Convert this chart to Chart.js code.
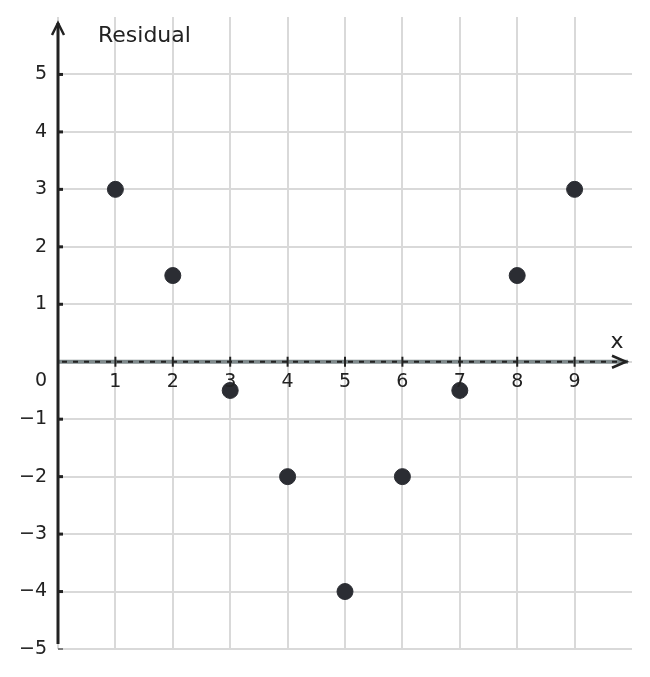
<!DOCTYPE html>
<html>
<head>
<meta charset="utf-8">
<script src="https://cdn.jsdelivr.net/npm/chart.js@4.4.0/dist/chart.umd.min.js"></script>
<style>
  html, body { margin: 0; padding: 0; background: #fff; }
  #wrap { width: 650px; height: 677px; position: relative; }
</style>
</head>
<body>
<div id="wrap"><canvas id="chart"></canvas></div>
<script>
// datos del gráfico de residuos
const xValues = [1, 2, 3, 4, 5, 6, 7, 8, 9];
const residuals = [3, 1.5, -0.5, -2, -4, -2, -0.5, 1.5, 3];
const xTicks = [1, 2, 3, 4, 5, 6, 7, 8, 9];
const yTicks = [-5, -4, -3, -2, -1, 0, 1, 2, 3, 4, 5];

const ink = '#222222';
const font = '19px "DejaVu Sans", sans-serif';

// dibuja ejes con flechas, marcas y etiquetas
const axesPlugin = {
    id: 'axes',
    afterDatasetsDraw(chart) {
        const ctx = chart.ctx;
        const xs = chart.scales.x, ys = chart.scales.y;
        const x0 = xs.getPixelForValue(0);
        const y0 = ys.getPixelForValue(0);
        const right = chart.chartArea.right;
        const top = chart.chartArea.top;
        ctx.save();

        // eje x: línea gris y guiones negros
        ctx.strokeStyle = '#7f8a8c';
        ctx.lineWidth = 4;
        ctx.beginPath();
        ctx.moveTo(x0, y0);
        ctx.lineTo(right - 4, y0);
        ctx.stroke();
        ctx.strokeStyle = ink;
        ctx.lineWidth = 2;
        ctx.setLineDash([5, 6]);
        ctx.beginPath();
        ctx.moveTo(x0 + 4, y0);
        ctx.lineTo(right - 6, y0);
        ctx.stroke();
        ctx.setLineDash([]);
        // flecha x
        ctx.lineWidth = 2.5;
        ctx.beginPath();
        ctx.moveTo(right - 20, y0 - 6);
        ctx.lineTo(right - 6, y0);
        ctx.lineTo(right - 20, y0 + 6);
        ctx.stroke();

        // eje y
        ctx.lineWidth = 3;
        ctx.beginPath();
        ctx.moveTo(x0, ys.getPixelForValue(-5) - 5);
        ctx.lineTo(x0, top + 6);
        ctx.stroke();
        ctx.lineWidth = 2.5;
        ctx.beginPath();
        ctx.moveTo(x0 - 6, top + 18);
        ctx.lineTo(x0, top + 6);
        ctx.lineTo(x0 + 6, top + 18);
        ctx.stroke();

        ctx.fillStyle = ink;
        ctx.font = font;

        // marcas y etiquetas x
        ctx.lineWidth = 2;
        ctx.textAlign = 'center';
        ctx.textBaseline = 'middle';
        xTicks.forEach(v => {
            const px = xs.getPixelForValue(v);
            ctx.beginPath();
            ctx.moveTo(px, y0 - 5);
            ctx.lineTo(px, y0 + 5);
            ctx.stroke();
            ctx.fillText(String(v), px, y0 + 20);
        });

        // marcas y etiquetas y
        ctx.textAlign = 'right';
        yTicks.forEach(v => {
            const py = ys.getPixelForValue(v);
            if (v !== 0) {
                ctx.lineWidth = v === -5 ? 1 : 3;
                ctx.beginPath();
                ctx.moveTo(x0, py);
                ctx.lineTo(x0 + 5, py);
                ctx.stroke();
            }
            const label = v < 0 ? '\u2212' + Math.abs(v) : String(v);
            ctx.fillText(label, x0 - 11, v === 0 ? py + 19 : py);
        });

        // títulos
        ctx.font = '22px "DejaVu Sans", sans-serif';
        ctx.textAlign = 'left';
        ctx.fillText('Residual', x0 + 40, top + 19);
        ctx.textAlign = 'center';
        ctx.fillText('x', right - 15, y0 - 19);
        ctx.restore();
    }
};

new Chart(document.getElementById('chart'), {
    type: 'scatter',
    data: {
        datasets: [{
            data: xValues.map((x, i) => ({ x: x, y: residuals[i] })),
            backgroundColor: '#2b2d33',
            borderColor: '#2b2d33',
            pointRadius: 8,
            pointHoverRadius: 8
        }]
    },
    options: {
        responsive: true,
        maintainAspectRatio: false,
        animation: false,
        layout: { padding: { top: 17, right: 18, left: 0, bottom: 0 } },
        plugins: { legend: { display: false }, tooltip: { enabled: false } },
        scales: {
            x: {
                type: 'linear',
                min: 0,
                max: 10,
                afterBuildTicks: s => { s.ticks = [0].concat(xTicks).map(v => ({ value: v })); },
                afterFit: s => { s.height = 28; },
                ticks: { display: false },
                grid: { color: '#d9d9d9', lineWidth: 2, drawTicks: false },
                border: { display: false }
            },
            y: {
                type: 'linear',
                min: -5,
                max: 6,
                afterBuildTicks: s => { s.ticks = yTicks.map(v => ({ value: v })); },
                afterFit: s => { s.width = 58; },
                ticks: { display: false },
                grid: { color: '#d9d9d9', lineWidth: 2, drawTicks: false },
                border: { display: false }
            }
        }
    },
    plugins: [axesPlugin]
});
</script>
</body>
</html>
